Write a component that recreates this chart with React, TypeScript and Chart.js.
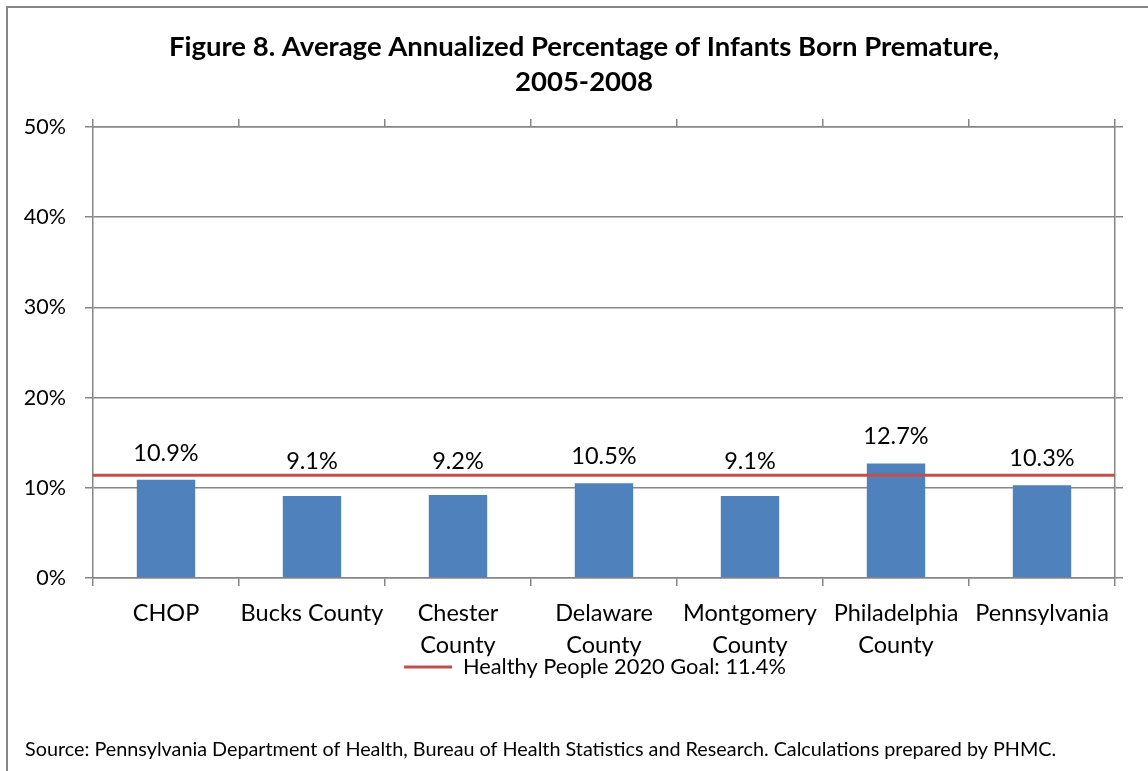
import React, { useEffect, useRef } from "react";
import { Chart, registerables } from "chart.js";

Chart.register(...registerables);

const categories: (string | string[])[] = [
  "CHOP",
  "Bucks County",
  ["Chester", "County"],
  ["Delaware", "County"],
  ["Montgomery", "County"],
  ["Philadelphia", "County"],
  "Pennsylvania",
];
const prematurePct = [10.9, 9.1, 9.2, 10.5, 9.1, 12.7, 10.3];
const goalPct = 11.4;
const goalLabel = "Healthy People 2020 Goal: 11.4%";
const titleLines = [
  "Figure 8. Average Annualized Percentage of Infants Born Premature,",
  "2005-2008",
];
const sourceText =
  "Source: Pennsylvania Department of Health, Bureau of Health Statistics and Research. Calculations prepared by PHMC.";
const yMin = 0;
const yMax = 50;
const yStep = 10;

const FONT = "Lato, 'Open Sans', sans-serif";
const GRID = "#868686";
const BAR = "#4f81bd";
const LINE = "#c0504d";

const framePlugin = {
  id: "frame",
  beforeDraw(chart: any) {
    const ctx = chart.ctx;
    ctx.save();
    ctx.strokeStyle = GRID;
    ctx.lineWidth = 2;
    ctx.beginPath();
    ctx.moveTo(7, chart.height);
    ctx.lineTo(7, 7);
    ctx.lineTo(chart.width, 7);
    ctx.stroke();
    ctx.restore();
  },
};

const legendShiftPlugin = {
  id: "legendShift",
  afterLayout(chart: any) {
    if (chart.legend) {
      chart.legend.left -= 9;
      chart.legend.right -= 9;
    }
  },
};

const valueLabelPlugin = {
  id: "valueLabels",
  afterDatasetsDraw(chart: any) {
    const ctx = chart.ctx;
    const meta = chart.getDatasetMeta(0);
    const goalY = chart.scales.y.getPixelForValue(goalPct);
    ctx.save();
    ctx.fillStyle = "#000";
    ctx.font = `23.5px ${FONT}`;
    ctx.textAlign = "center";
    ctx.textBaseline = "alphabetic";
    meta.data.forEach((el: any, i: number) => {
      const y = Math.min(el.y - 19, goalY - 6);
      ctx.fillText(prematurePct[i].toFixed(1) + "%", el.x, y);
    });
    ctx.restore();
  },
};

export default function App() {
  const ref = useRef<HTMLCanvasElement | null>(null);

  useEffect(() => {
    if (!ref.current) return;
    Chart.defaults.font.family = FONT;
    Chart.defaults.color = "#000";
    const chart = new Chart(ref.current, {
      type: "bar",
      data: {
        labels: categories as any,
        datasets: [
          {
            type: "bar",
            label: "Average annualized % premature",
            data: prematurePct,
            backgroundColor: BAR,
            borderWidth: 0,
            barPercentage: 0.4,
            categoryPercentage: 1,
            grouped: false,
            xAxisID: "x",
            yAxisID: "y",
            order: 2,
          } as any,
          {
            type: "line",
            label: goalLabel,
            data: [
              { x: 0, y: goalPct },
              { x: 1, y: goalPct },
            ],
            borderColor: LINE,
            backgroundColor: LINE,
            borderWidth: 3,
            pointRadius: 0,
            xAxisID: "xl",
            yAxisID: "y",
            order: 1,
          } as any,
        ],
      },
      options: {
        responsive: false,
        animation: false,
        layout: { padding: { left: 25, right: 5, top: 0, bottom: 0 } },
        plugins: {
          tooltip: { enabled: false },
          title: {
            display: true,
            text: titleLines,
            color: "#000",
            font: { family: FONT, size: 27.5, weight: "bold", lineHeight: 1.273 },
            padding: { top: 29.5, bottom: 19.5 },
          },
          subtitle: {
            display: true,
            position: "bottom",
            align: "start",
            text: sourceText,
            color: "#000",
            font: { family: FONT, size: 19.8, lineHeight: 1.2 },
            padding: { top: 50.2, bottom: 9.1 },
          },
          legend: {
            display: true,
            position: "bottom",
            fullSize: false,
            labels: {
              boxWidth: 48,
              boxHeight: 3,
              padding: 0,
              color: "#000",
              font: { family: FONT, size: 21.8 },
              generateLabels: () => [
                {
                  text: goalLabel,
                  fillStyle: LINE,
                  strokeStyle: LINE,
                  lineWidth: 0,
                  hidden: false,
                  datasetIndex: 1,
                } as any,
              ],
            },
          },
        },
        scales: {
          x: {
            type: "category",
            position: "bottom",
            offset: true,
            grid: {
              offset: true,
              drawOnChartArea: false,
              color: GRID,
              lineWidth: 1.5,
              tickLength: 8,
            },
            border: { display: true, color: GRID, width: 1.5 },
            ticks: {
              color: "#000",
              font: { family: FONT, size: 23.5, lineHeight: 1.4 },
              padding: 10.5,
              maxRotation: 0,
              autoSkip: false,
            },
            afterFit: (s: any) => {
              s.height = 78.1;
            },
          },
          xTop: {
            type: "category",
            position: "top",
            labels: categories as any,
            offset: true,
            grid: {
              offset: true,
              drawOnChartArea: false,
              color: GRID,
              lineWidth: 1.5,
              tickLength: 8,
            },
            border: { display: true, color: GRID, width: 1.5 },
            ticks: { display: false },
            afterFit: (s: any) => {
              s.height = 8;
            },
          },
          xl: { type: "linear", display: false, offset: false, min: 0, max: 1 },
          y: {
            position: "left",
            min: yMin,
            max: yMax,
            ticks: {
              stepSize: yStep,
              color: "#000",
              font: { family: FONT, size: 21.5 },
              padding: 19,
              callback: (v: any) => v + "%",
            },
            grid: { color: GRID, lineWidth: 1.5, tickLength: 8 },
            border: { display: true, color: GRID, width: 1.5 },
            afterFit: (s: any) => {
              s.width = 68;
              s._computeLabelArea = () => undefined;
            },
          },
          y2: {
            position: "right",
            min: yMin,
            max: yMax,
            ticks: { display: false, stepSize: yStep },
            grid: {
              drawOnChartArea: false,
              color: GRID,
              lineWidth: 1.5,
              tickLength: 8,
            },
            border: { display: true, color: GRID, width: 1.5 },
            afterFit: (s: any) => {
              s.width = 28;
            },
          },
        },
      } as any,
      plugins: [framePlugin, legendShiftPlugin, valueLabelPlugin],
    });
    return () => chart.destroy();
  }, []);

  return (
    <div style={{ position: "absolute", left: 0, top: 0, width: 1148, height: 771, background: "#fff" }}>
      <canvas ref={ref} width={1148} height={771} style={{ display: "block" }} />
    </div>
  );
}
